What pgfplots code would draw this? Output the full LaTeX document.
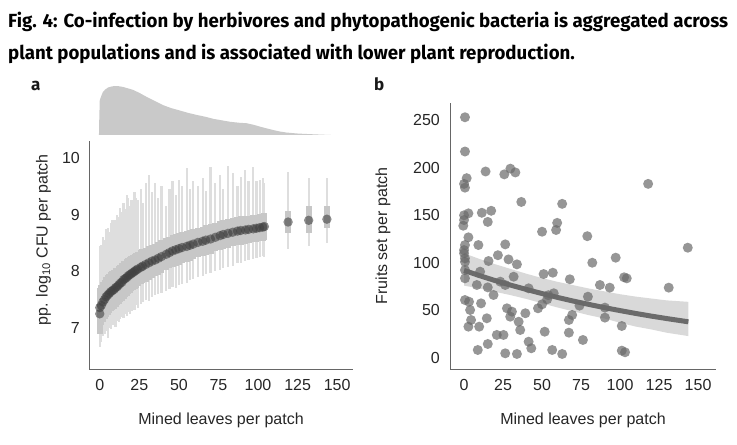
\documentclass[border=0pt]{standalone}
\usepackage{pgfplots}
\pgfplotsset{compat=1.18}
\usepackage{pgfplotstable}
\usepackage{graphicx}
\usepackage{fontspec}
\setmainfont{Liberation Sans}
\newfontfamily\titlefont{Fira Sans}
\definecolor{txt}{HTML}{262626}

\pgfplotstableread{
x y lo hi bp bm
0 7.25 6.67 8.45 0.35 0.35
0 7.36 6.80 8.30 0.35 0.35
1 7.40 6.75 8.47 0.35 0.35
2 7.46 6.85 8.60 0.35 0.35
3 7.50 6.90 8.55 0.35 0.35
4 7.55 6.95 8.75 0.35 0.35
5 7.58 6.82 8.77 0.35 0.35
6 7.61 7.00 8.70 0.34 0.34
7 7.64 6.98 8.85 0.34 0.34
8 7.66 7.05 8.90 0.34 0.34
9 7.68 7.10 8.80 0.34 0.34
10 7.71 7.02 8.91 0.34 0.34
11 7.73 7.12 9.00 0.33 0.33
12 7.76 7.10 8.95 0.33 0.33
13 7.79 7.15 9.12 0.33 0.33
14 7.81 7.20 9.05 0.33 0.33
15 7.85 7.18 9.20 0.33 0.33
16 7.87 7.25 9.10 0.32 0.32
17 7.89 7.22 9.35 0.32 0.32
18 7.92 7.28 9.30 0.32 0.32
19 7.94 7.25 9.15 0.32 0.32
20 7.96 7.30 9.25 0.31 0.31
21 7.98 7.35 9.05 0.31 0.31
22 8.00 7.32 9.40 0.31 0.31
23 8.02 7.40 9.30 0.31 0.31
24 8.04 7.36 9.26 0.30 0.30
26 8.07 7.42 9.45 0.30 0.30
27 8.09 7.45 9.20 0.30 0.30
29 8.12 7.50 9.55 0.30 0.30
31 8.15 7.48 9.70 0.30 0.30
33 8.18 7.55 9.40 0.29 0.29
35 8.20 7.58 9.56 0.29 0.29
37 8.23 7.60 9.30 0.29 0.29
39 8.26 7.62 9.50 0.29 0.29
42 8.30 7.66 9.15 0.28 0.28
44 8.33 7.68 9.45 0.28 0.28
46 8.36 7.72 9.60 0.28 0.28
48 8.38 7.70 9.35 0.28 0.28
50 8.40 7.76 9.62 0.28 0.28
52 8.42 7.78 9.50 0.27 0.27
55 8.44 7.80 9.82 0.27 0.27
57 8.46 7.84 9.45 0.27 0.27
59 8.48 7.86 9.60 0.27 0.27
62 8.51 7.90 9.50 0.26 0.26
65 8.53 7.92 9.65 0.26 0.26
67 8.55 7.95 9.42 0.26 0.26
70 8.57 7.97 9.84 0.26 0.26
73 8.60 8.00 9.55 0.25 0.25
76 8.63 8.02 9.70 0.25 0.25
78 8.65 8.05 9.45 0.25 0.25
81 8.67 8.08 9.86 0.25 0.25
84 8.69 8.10 9.73 0.25 0.25
87 8.71 8.14 9.50 0.25 0.25
89 8.72 8.15 9.67 0.25 0.25
92 8.73 8.18 9.78 0.24 0.24
94 8.74 8.20 9.60 0.24 0.24
97 8.75 8.22 9.84 0.24 0.24
99 8.76 8.23 9.60 0.24 0.24
101 8.77 8.25 9.62 0.24 0.24
103 8.78 8.27 9.64 0.24 0.24
104 8.79 8.26 9.55 0.24 0.24
119 8.87 8.39 9.76 0.20 0.20
132 8.90 8.44 9.65 0.25 0.23
143.5 8.92 8.50 9.64 0.24 0.15
}\cfu

\pgfplotstableread{
x y
0.6 253
0.6 217
13.8 196
0 183
1.7 189
0.6 179
25.8 193
29.7 199
32.9 195
36.7 164
62.9 162
118 183
2.8 152
0 150
11.4 152.6
17.4 154.7
15.2 143
0 145
-0.5 139
59.7 142
50 132.7
59 134.5
79 128
2.8 126.8
9.2 118.7
26.4 119.4
0.6 118.7
0 113.4
0 110
0.6 104.7
0.6 101
21.7 108
28.5 103.6
15.7 101.9
33.9 98.4
82.2 100.1
97.2 105.4
143.4 115.9
0.6 92.4
10.3 90.7
51 88.2
56.9 89.6
67.8 82.7
102.6 84.8
104.3 83.7
0.6 83.7
8.2 76.7
23.2 80.2
26.4 76.7
31.8 85.4
15.2 74.2
18.9 66.2
41.4 73.2
87.1 76.7
93.4 73.9
131.2 73.9
79.4 64.4
74 55
90.3 52.9
90.3 42.4
54 66
57.5 68
53.3 61.7
50 56.4
47.4 52.2
0.6 60.9
3.2 59.1
10.9 57.4
27.5 52.2
30.7 48.7
3.9 50.4
39.3 47
29.6 43.4
14.6 41.7
4.5 39.9
2.8 32.9
9.7 32.9
35 38.1
36 29.4
21 24.2
25.3 24.2
51.7 27.6
69.3 45.2
67.2 39.9
67.2 26.6
101.1 33.6
76.2 18.9
15.2 14.7
8.8 8.4
26.4 4.9
33.9 4.2
41.4 17.1
43.1 10.2
56.5 8.4
62.9 4.2
101.1 7.7
103.2 6
}\fruits

\pgfplotsset{
  myaxis/.style={
    scale only axis,
    axis x line*=bottom, axis y line*=left,
    axis line style={draw=black!60, line width=0.9bp},
    major tick length=0pt,
    tick style={draw=none},
    tick label style={font=\fontsize{16bp}{19bp}\selectfont, text=txt},
    /pgf/number format/assume math mode=true,
    yticklabel style={inner sep=0pt, anchor=east, xshift=-9bp},
    xticklabel style={inner sep=0pt, anchor=north, yshift=-10bp},
    every axis x label/.style={at={([yshift=-55bp]axis description cs:0.5,0)}, anchor=base,
      font=\fontsize{16bp}{19bp}\selectfont, text=txt},
    xtick={0,25,50,75,100,125,150},
    clip=false,
  }
}

\newsavebox\tlineA
\newsavebox\tlineB

\begin{document}
\sbox\tlineA{\titlefont\bfseries\fontsize{19bp}{19bp}\selectfont Fig. 4: Co-infection by herbivores and phytopathogenic bacteria is aggregated across}%
\sbox\tlineB{\titlefont\bfseries\fontsize{19bp}{19bp}\selectfont plant populations and is associated with lower plant reproduction.}%
\edef\tscale{\fpeval{720bp/\wd\tlineA}}%
\begin{tikzpicture}
\path[use as bounding box] (0,0) rectangle (737bp,445bp);

\node[anchor=base west, inner sep=0, text=black!90] at (8bp,417bp) {\scalebox{\tscale}[1]{\usebox\tlineA}};
\node[anchor=base west, inner sep=0, text=black!90] at (8bp,385bp) {\scalebox{\tscale}[1]{\usebox\tlineB}};
\node[anchor=base west, inner sep=0, text=black!90] at (31bp,354bp) {\titlefont\bfseries\fontsize{17bp}{17bp}\selectfont a};
\node[anchor=base west, inner sep=0, text=black!90] at (374bp,354bp) {\titlefont\bfseries\fontsize{17bp}{17bp}\selectfont b};

% density on top of panel a
\begin{axis}[
  at={(89bp,310bp)}, anchor=south west,
  scale only axis, width=264bp, height=49bp,
  xmin=-6.8, xmax=160, ymin=0, ymax=1,
  axis lines=none, clip=false,
]
\addplot[fill=black!21, draw=none] coordinates {
(-0.5,0) (-0.3,0.35) (0,0.71) (1,0.8) (2,0.88) (3.5,0.93) (5.3,0.97) (7.5,0.99)
(9.5,1.0) (12,0.995) (14.8,0.98) (18,0.95) (21.1,0.92) (25,0.86) (29.5,0.78)
(35,0.69) (40,0.61) (45,0.55) (50.6,0.5) (56,0.45) (61.2,0.41) (67,0.37)
(71.7,0.33) (77,0.30) (82.3,0.27) (88,0.25) (92.8,0.24) (97,0.21) (101.3,0.17)
(106,0.13) (109.7,0.10) (114,0.07) (118,0.05) (125,0.03) (131,0.02) (138,0.01) (146,0)
};
\end{axis}

% panel a
\begin{axis}[
  myaxis,
  at={(89bp,76bp)}, anchor=south west,
  width=264bp, height=228bp,
  xmin=-6.8, xmax=160, ymin=6.276, ymax=10.3,
  ytick={7,8,9,10},
  xlabel={Mined leaves per patch},
  ylabel={pp. log\textsubscript{10} CFU per patch},
  every axis y label/.style={at={([xshift=-41.5bp]axis description cs:0,0.566)}, rotate=90, anchor=base,
    font=\fontsize{16bp}{19bp}\selectfont, text=txt},
]
\addplot[draw=none, mark=none, forget plot,
  error bars/.cd, y dir=both, y explicit, error mark=none,
  error bar style={line width=2.2bp, draw=black!13}]
  table[x=x, y=y, y error plus expr=\thisrow{hi}-\thisrow{y}, y error minus expr=\thisrow{y}-\thisrow{lo}] {\cfu};
\addplot[draw=none, mark=none, forget plot,
  error bars/.cd, y dir=both, y explicit, error mark=none,
  error bar style={line width=6bp, draw=black!22}]
  table[x=x, y=y, y error plus=bp, y error minus=bm] {\cfu};
\addplot[only marks, mark=*, mark size=4.7bp,
  mark options={draw=black!75, fill=black!75, draw opacity=0, fill opacity=0.6}]
  table[x=x, y=y] {\cfu};
\end{axis}

% panel b
\begin{axis}[
  myaxis,
  at={(450bp,76bp)}, anchor=south west,
  width=266bp, height=266bp,
  xmin=-9, xmax=161.5, ymin=-11.6, ymax=268,
  ytick={0,50,100,150,200,250},
  yticklabel style={xshift=-1bp},
  xlabel={Mined leaves per patch},
  ylabel={Fruits set per patch},
  every axis y label/.style={at={([xshift=-63bp]axis description cs:0,0.5)}, rotate=90, anchor=base,
    font=\fontsize{16bp}{19bp}\selectfont, text=txt},
]
\addplot[fill=black!15, draw=none] coordinates {
(0,110) (10,104) (20,98.5) (30,93.5) (40,88.5) (50,84) (60,80) (70,76.5) (80,73)
(90,70) (100,67) (110,64.5) (120,62.5) (130,60.5) (143.8,59)
(143.8,23) (130,26.5) (120,30) (110,33) (100,37) (90,41.5) (80,45) (70,49)
(60,53) (50,57.5) (40,62) (30,66) (20,69.5) (10,73) (0,76)
};
\addplot[draw=black!58, line width=5bp] coordinates {
(0,92) (10,86.5) (20,81.3) (30,76.5) (40,72) (50,67.7) (60,63.6) (70,59.8)
(80,56.3) (90,52.9) (100,49.8) (110,46.8) (120,44) (130,41.4) (143.8,38)
};
\addplot[only marks, mark=*, mark size=5bp,
  mark options={draw=black!59, fill=black!59, draw opacity=0, fill opacity=0.7}]
  table[x=x, y=y] {\fruits};
\end{axis}
\end{tikzpicture}
\end{document}
